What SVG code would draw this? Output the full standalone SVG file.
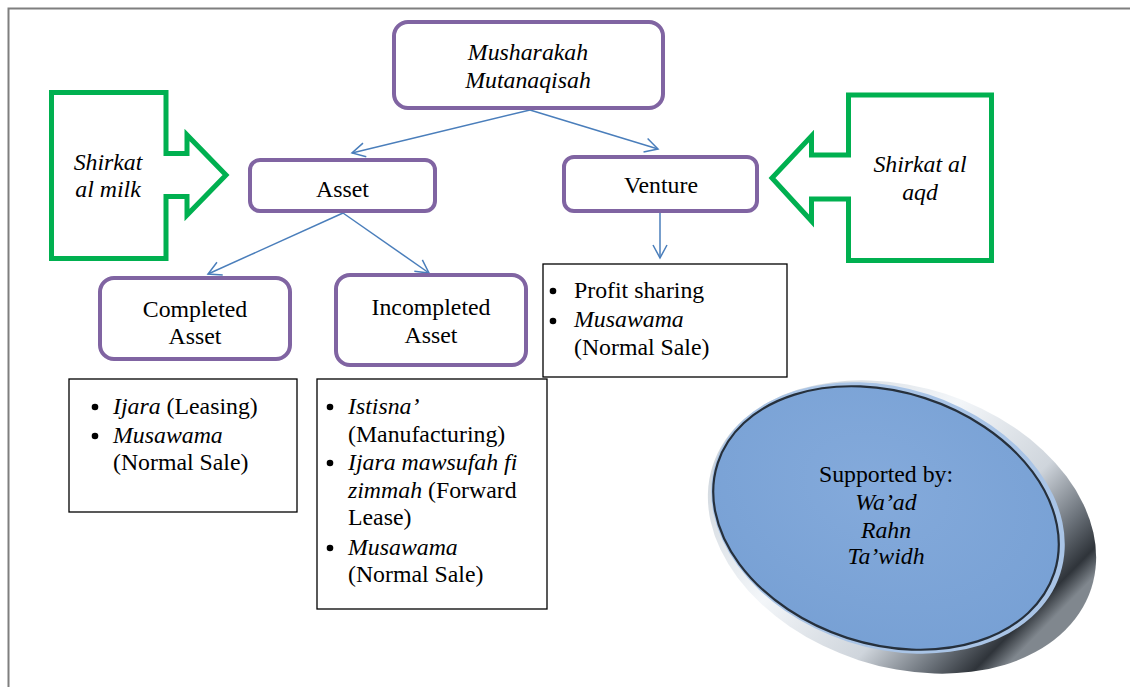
<svg xmlns="http://www.w3.org/2000/svg" width="1130" height="687" viewBox="0 0 1130 687">
<style>
text{font-family:"Liberation Serif","Times New Roman",serif;font-size:23.8px;fill:#000}
.c{text-anchor:middle}
.i{font-style:italic}
.node{fill:#fff;stroke:#8064a2;stroke-width:4}
.box{fill:#fff;stroke:#000;stroke-width:1.3}
.green{fill:#fff;stroke:#00b050;stroke-width:5;stroke-linejoin:miter}
.conn{stroke:#4a7ebb;stroke-width:1.5;fill:none;marker-end:url(#arr)}
</style>
<defs>
<marker id="arr" markerUnits="userSpaceOnUse" markerWidth="18" markerHeight="18" refX="15" refY="9" orient="auto">
<path d="M2,2 L15,9 L2,16" fill="none" stroke="#4a7ebb" stroke-width="1.5"/>
</marker>
<linearGradient id="ring" x1="0" y1="0.1" x2="1" y2="0.45">
<stop offset="0" stop-color="#c4ccd4"/>
<stop offset="0.45" stop-color="#f3f6f9"/>
<stop offset="0.72" stop-color="#cfd5dc"/>
<stop offset="0.86" stop-color="#6d747c"/>
<stop offset="0.95" stop-color="#2f343a"/>
<stop offset="1" stop-color="#80878e"/>
</linearGradient>
<radialGradient id="blue" cx="0.45" cy="0.4" r="0.65">
<stop offset="0" stop-color="#84aadb"/>
<stop offset="1" stop-color="#77a0d4"/>
</radialGradient>
</defs>
<g id="frame" fill="none" stroke="#7f7f7f" stroke-width="2">
<path d="M8.5,687 V8.5 H1130"/>
</g>
<g id="connectors">
<line class="conn" x1="530" y1="110" x2="352" y2="153"/>
<line class="conn" x1="530" y1="110" x2="658" y2="149"/>
<line class="conn" x1="343" y1="213" x2="208" y2="274"/>
<line class="conn" x1="343" y1="213" x2="429" y2="273"/>
<line class="conn" x1="660" y1="213" x2="660" y2="258"/>
</g>
<g id="musharakah">
<rect class="node" x="394" y="22" width="269" height="86" rx="14"/>
<text class="c i" x="528" y="60">Musharakah</text>
<text class="c i" x="528" y="88">Mutanaqisah</text>
</g>
<g id="shirkat-milk">
<polygon class="green" points="51.5,92.5 166,92.5 166,153.5 187,153.5 187,135 226,175 187,215 187,196.5 166,196.5 166,258.5 51.5,258.5"/>
<text class="c i" x="108" y="170">Shirkat</text>
<text class="c i" x="108" y="197">al milk</text>
</g>
<g id="shirkat-aqd">
<polygon class="green" points="848.5,95 991.5,95 991.5,260.5 848.5,260.5 848.5,199 811.5,199 811.5,221 772,178 811.5,136 811.5,155 848.5,155"/>
<text class="c i" x="920" y="172">Shirkat al</text>
<text class="c i" x="920" y="200">aqd</text>
</g>
<g id="asset">
<rect class="node" x="250" y="160" width="185" height="51" rx="10"/>
<text class="c" x="342.5" y="197">Asset</text>
</g>
<g id="venture">
<rect class="node" x="564" y="157" width="193" height="54" rx="10"/>
<text class="c" x="661" y="193">Venture</text>
</g>
<g id="completed">
<rect class="node" x="100" y="278" width="190" height="81" rx="14"/>
<text class="c" x="195" y="317">Completed</text>
<text class="c" x="195" y="344">Asset</text>
</g>
<g id="incompleted">
<rect class="node" x="336" y="275" width="190" height="90" rx="14"/>
<text class="c" x="431" y="315">Incompleted</text>
<text class="c" x="431" y="343">Asset</text>
</g>
<g id="venture-list">
<rect class="box" x="543" y="264" width="244" height="113"/>
<circle cx="553" cy="291" r="3.3"/>
<circle cx="553" cy="321" r="3.3"/>
<text x="574" y="298">Profit sharing</text>
<text x="574" y="327" class="i">Musawama</text>
<text x="574" y="355">(Normal Sale)</text>
</g>
<g id="completed-list">
<rect class="box" x="69" y="379" width="228" height="133"/>
<circle cx="95" cy="407" r="3.3"/>
<circle cx="95" cy="436" r="3.3"/>
<text x="113" y="414"><tspan class="i">Ijara</tspan> (Leasing)</text>
<text x="113" y="443" class="i">Musawama</text>
<text x="113" y="470">(Normal Sale)</text>
</g>
<g id="incompleted-list">
<rect class="box" x="317" y="379" width="230" height="230"/>
<circle cx="330" cy="407" r="3.3"/>
<circle cx="330" cy="463" r="3.3"/>
<circle cx="330" cy="548" r="3.3"/>
<text x="348" y="414" class="i">Istisna’</text>
<text x="348" y="442">(Manufacturing)</text>
<text x="348" y="470" class="i">Ijara mawsufah fi</text>
<text x="348" y="498"><tspan class="i">zimmah</tspan> (Forward</text>
<text x="348" y="525">Lease)</text>
<text x="348" y="555" class="i">Musawama</text>
<text x="348" y="582">(Normal Sale)</text>
</g>
<g id="supported">
<ellipse cx="902" cy="527" rx="199" ry="140" transform="rotate(18 902 527)" fill="url(#ring)"/>
<ellipse cx="888" cy="518" rx="181" ry="130" transform="rotate(18 888 518)" fill="#a9c4e6"/>
<ellipse cx="886" cy="518" rx="177" ry="126" transform="rotate(18 886 518)" fill="url(#blue)" stroke="#26303c" stroke-width="2.2"/>
<text class="c" x="886" y="482">Supported by:</text>
<text class="c i" x="886" y="510">Wa’ad</text>
<text class="c i" x="886" y="538">Rahn</text>
<text class="c i" x="886" y="564">Ta’widh</text>
</g>
</svg>
